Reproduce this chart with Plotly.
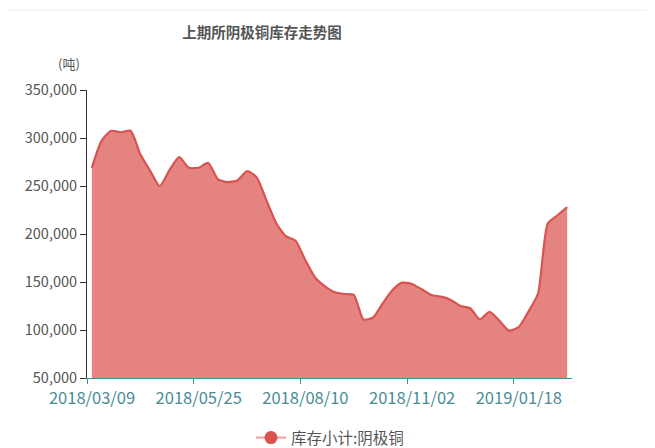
import plotly.graph_objects as go

dates = [
    "2018/03/09", "2018/03/16", "2018/03/23", "2018/03/30", "2018/04/04", "2018/04/13",
    "2018/04/20", "2018/04/27", "2018/05/04", "2018/05/11", "2018/05/18", "2018/05/25",
    "2018/06/01", "2018/06/08", "2018/06/15", "2018/06/22", "2018/06/29", "2018/07/06",
    "2018/07/13", "2018/07/20", "2018/07/27", "2018/08/03", "2018/08/10", "2018/08/17",
    "2018/08/24", "2018/08/31", "2018/09/07", "2018/09/14", "2018/09/21", "2018/09/28",
    "2018/10/12", "2018/10/19", "2018/10/26", "2018/11/02", "2018/11/09", "2018/11/16",
    "2018/11/23", "2018/11/30", "2018/12/07", "2018/12/14", "2018/12/21", "2018/12/28",
    "2019/01/04", "2019/01/11", "2019/01/18", "2019/01/25", "2019/02/01", "2019/02/15",
    "2019/02/22", "2019/03/01",
]

inventory = [
    269000, 297000, 307500, 306000, 307500, 283000, 266000, 250000, 266500, 280000,
    269000, 269000, 274000, 257000, 254000, 255800, 265500, 259000, 235000, 211500,
    197700, 193000, 173000, 155000, 145800, 139600, 137500, 136500, 111000, 113000,
    128000, 141700, 149300, 148000, 142400, 136500, 134700, 131300, 125000, 122700,
    111000, 119000, 109800, 99400, 103000, 119000, 138000, 211000, 219500, 228000,
]

label_idx = [0, 11, 22, 33, 44]
y_ticks = [50000, 100000, 150000, 200000, 250000, 300000, 350000]

series_name = "库存小计:阴极铜"
title_text = "上期所阴极铜库存走势图"
unit_text = "(吨)"

x = list(range(len(dates)))

fig = go.Figure()
fig.add_trace(go.Scatter(
    x=x, y=inventory, mode="lines",
    line=dict(color="#d9534f", width=2.2, shape="spline", smoothing=0.6),
    fill="tozeroy", fillcolor="rgba(217,83,79,0.72)",
    showlegend=False, hoverinfo="x+y",
))
fig.add_trace(go.Scatter(
    x=[None], y=[None], mode="lines+markers", name=series_name,
    line=dict(color="rgba(217,83,79,0.55)", width=2),
    marker=dict(color="#d9534f", size=13),
))

# the page body keeps the browser's default 8px margin, so the figure is
# laid out 8px smaller and every reference pixel position is offset by 8
OFF = 8
W, H = 655 - OFF, 448 - OFF
L, R, T, B = 87 - OFF, 572 - OFF, 90 - OFF, 378 - OFF

def px(xp):
    return (xp - OFF - L) / (R - L)

def py(yp):
    return (B - (yp - OFF)) / (B - T)

fig.update_layout(
    width=W, height=H,
    margin=dict(l=L, r=W - R, t=T, b=H - B),
    paper_bgcolor="white", plot_bgcolor="white",
    font=dict(family="Noto Sans CJK SC, Noto Sans, sans-serif", color="#555"),
    title=dict(text="<b>" + title_text + "</b>", x=(262 - OFF) / W, xanchor="center",
               y=1 - (33 - OFF) / H, yanchor="middle", yref="container",
               font=dict(size=14.5, color="#555")),
    showlegend=True,
    legend=dict(orientation="h", x=px(330), xanchor="center",
                yref="container", y=1 - (438 - OFF) / H, yanchor="middle",
                font=dict(size=15.5, color="#555"), itemwidth=30),
    xaxis=dict(
        range=[-0.5, len(dates) - 0.5],
        tickvals=[i - 0.5 for i in label_idx],
        ticktext=[dates[i] for i in label_idx],
        ticklabelshift=5,
        showline=True, linecolor="#3f8f99", linewidth=1,
        ticks="outside", tickcolor="#3f8f99", ticklen=5,
        tickfont=dict(size=16.5, color="#4a8c96"),
        showgrid=False, zeroline=False, fixedrange=True, automargin=False,
    ),
    yaxis=dict(
        range=[50000, 350000],
        tickvals=y_ticks, tickformat=",",
        showline=True, linecolor="#333", linewidth=1,
        ticks="outside", tickcolor="#333", ticklen=6,
        tickfont=dict(size=14.5, color="#555"),
        showgrid=False, zeroline=False, fixedrange=True, automargin=False,
    ),
    shapes=[dict(type="line", xref="paper", yref="paper",
                 x0=px(8), x1=px(655), y0=py(10), y1=py(10),
                 line=dict(color="#ececec", width=1))],
    annotations=[dict(text=unit_text, xref="paper", yref="paper",
                      x=px(69), y=py(63), xanchor="center", yanchor="middle",
                      showarrow=False, font=dict(size=13, color="#555"))],
)

fig.write_html("out.html")
